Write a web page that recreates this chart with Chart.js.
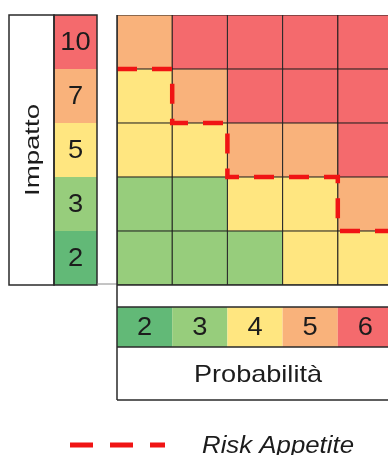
<!DOCTYPE html>
<html lang="it">

<head>
    <meta charset="UTF-8">
    <title>Matrice di rischio</title>
    <script src="https://cdn.jsdelivr.net/npm/chart.js"></script>
    <style>
        html, body { margin: 0; padding: 0; background: #fff; overflow: hidden; }
        #box { width: 400px; height: 455px; }
    </style>
</head>

<body>
    <div id="box">
        <canvas id="matrice" width="400" height="455"></canvas>
    </div>

    <script>
        // etichette degli assi
        const probabilita = ["2", "3", "4", "5", "6"];
        const impatto = ["2", "3", "5", "7", "10"]; // dal basso verso l'alto

        // livello di colore di ogni cella (0 verde scuro ... 4 rosso)
        const rigaImpatto2 = [1, 1, 1, 2, 2];
        const rigaImpatto3 = [1, 1, 2, 2, 3];
        const rigaImpatto5 = [2, 2, 3, 3, 4];
        const rigaImpatto7 = [2, 3, 4, 4, 4];
        const rigaImpatto10 = [3, 4, 4, 4, 4];

        const livelloImpatto = [0, 1, 2, 3, 4];
        const livelloProbabilita = [0, 1, 2, 3, 4];

        // soglia del risk appetite per colonna (numero di righe sotto la linea)
        const riskAppetite = [4, 3, 2, 2, 1, 1];

        const colori = ["#62b977", "#97cd7c", "#ffe680", "#f9b27b", "#f46a6d"];
        const righe = [rigaImpatto2, rigaImpatto3, rigaImpatto5, rigaImpatto7, rigaImpatto10];

        const datasets = righe.map((riga, i) => ({
            type: "bar",
            label: "Impatto " + impatto[i],
            data: riga.map(() => 1),
            backgroundColor: riga.map(l => colori[l]),
            borderColor: "#1e1e1e",
            borderWidth: 0.9,
            borderSkipped: false,
            barPercentage: 1,
            categoryPercentage: 1,
            grouped: false,
            stack: "griglia",
            order: 2
        }));

        datasets.push({
            type: "line",
            label: "Risk Appetite",
            xAxisID: "x2",
            data: riskAppetite.map((v, i) => ({ x: i, y: v })),
            borderColor: "#f01414",
            borderWidth: 4.5,
            borderDash: [20, 15],
            stepped: true,
            pointRadius: 0,
            fill: false,
            order: 0
        });

        function testo(ctx, str, x, y, font, larghezza, ruota) {
            ctx.save();
            ctx.font = font;
            ctx.fillStyle = "#1c1c1c";
            ctx.textAlign = "center";
            ctx.textBaseline = "middle";
            ctx.translate(x, y);
            if (ruota) ctx.rotate(-Math.PI / 2);
            const sx = larghezza ? larghezza / ctx.measureText(str).width : 1.05;
            ctx.scale(sx, 1);
            ctx.fillText(str, 0, 0);
            ctx.restore();
        }

        const cornice = {
            id: "cornice",
            afterDraw(chart) {
                const ctx = chart.ctx;
                const xs = chart.scales.x;
                const ys = chart.scales.y;
                const area = chart.chartArea;
                const w = (area.right - area.left) / probabilita.length;

                ctx.save();
                ctx.strokeStyle = "#2a2a2a";
                ctx.lineWidth = 1.5;

                // colonna impatto
                const colSx = 54, colDx = 97;
                impatto.forEach((lab, i) => {
                    const y0 = ys.getPixelForValue(i + 1);
                    const y1 = ys.getPixelForValue(i);
                    ctx.fillStyle = colori[livelloImpatto[i]];
                    ctx.fillRect(colSx, y0, colDx - colSx, y1 - y0);
                    testo(ctx, lab, (colSx + colDx) / 2, (y0 + y1) / 2 + 1, "26px 'Liberation Sans'");
                });
                ctx.strokeRect(9, area.top, colSx - 9, area.bottom - area.top);
                ctx.strokeRect(colSx, area.top, colDx - colSx, area.bottom - area.top);
                testo(ctx, "Impatto", 33, (area.top + area.bottom) / 2, "21px 'Liberation Sans'", 92, true);

                ctx.beginPath();
                ctx.moveTo(colDx, area.bottom - 1);
                ctx.lineTo(area.left, area.bottom - 1);
                ctx.strokeStyle = "#8a8a8a";
                ctx.lineWidth = 1;
                ctx.stroke();

                // riga probabilita
                const r0 = 307, r1 = 347, r2 = 400;
                probabilita.forEach((lab, j) => {
                    const cx = xs.getPixelForValue(j);
                    ctx.fillStyle = colori[livelloProbabilita[j]];
                    ctx.fillRect(cx - w / 2, r0, w, r1 - r0);
                    testo(ctx, lab, cx, (r0 + r1) / 2 + 1, "26px 'Liberation Sans'");
                });

                ctx.strokeStyle = "#2a2a2a";
                ctx.lineWidth = 1.5;
                ctx.beginPath();
                [area.bottom, r0, r1, r2].forEach(y => {
                    ctx.moveTo(area.left, y);
                    ctx.lineTo(chart.width, y);
                });
                ctx.moveTo(area.left, area.top);
                ctx.lineTo(area.left, r2);
                ctx.stroke();

                testo(ctx, "Probabilità", 258, 375, "24px 'Liberation Sans'", 128);

                // legenda
                const ds = chart.data.datasets[chart.data.datasets.length - 1];
                ctx.strokeStyle = ds.borderColor;
                ctx.lineWidth = 5;
                ctx.setLineDash([23, 17]);
                ctx.beginPath();
                ctx.moveTo(70, 445);
                ctx.lineTo(165, 445);
                ctx.stroke();
                ctx.setLineDash([]);

                ctx.font = "italic 23px 'Liberation Sans'";
                ctx.fillStyle = "#1c1c1c";
                ctx.textAlign = "left";
                ctx.textBaseline = "alphabetic";
                const sx = 152 / ctx.measureText(ds.label).width;
                ctx.translate(202, 453);
                ctx.scale(sx, 1);
                ctx.fillText(ds.label, 0, 0);
                ctx.restore();
            }
        };

        new Chart(document.getElementById("matrice"), {
            data: {
                labels: probabilita,
                datasets: datasets
            },
            options: {
                responsive: false,
                animation: false,
                devicePixelRatio: 1,
                layout: { padding: { left: 117, top: 15, right: 7, bottom: 170 } },
                plugins: {
                    legend: { display: false },
                    tooltip: { enabled: false }
                },
                scales: {
                    x: { display: false, stacked: true },
                    x2: { type: "linear", display: false, min: 0, max: 5 },
                    y: { display: false, stacked: true, min: 0, max: 5 }
                }
            },
            plugins: [cornice]
        });
    </script>
</body>

</html>
